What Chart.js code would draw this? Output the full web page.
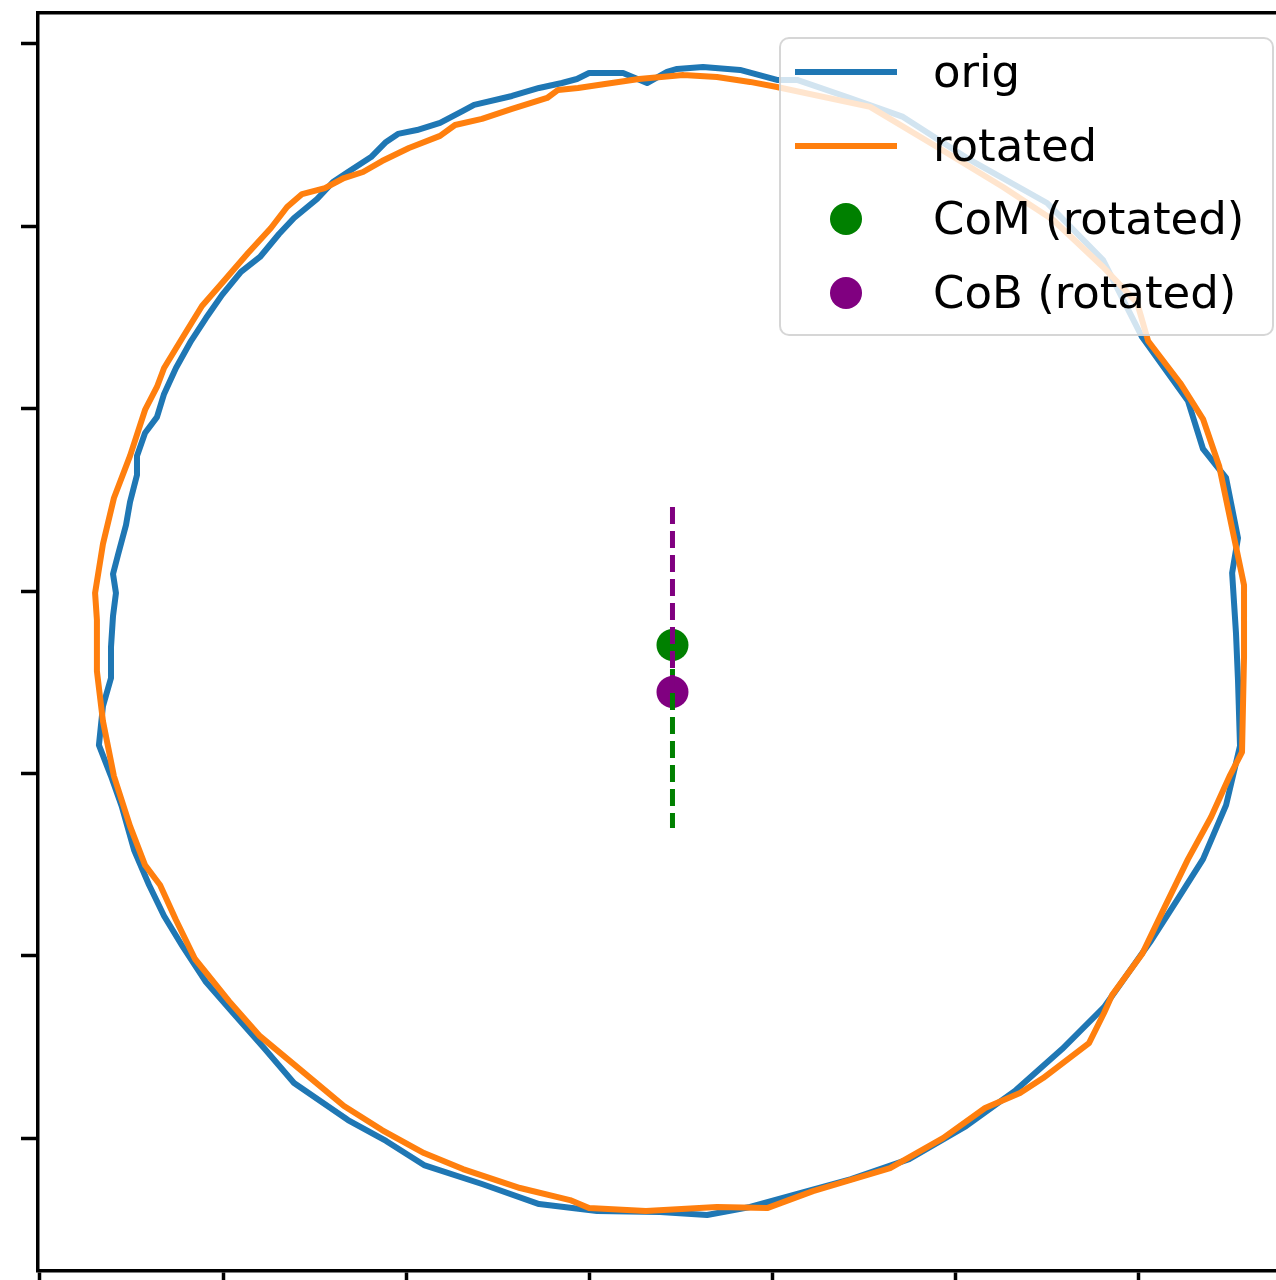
<!DOCTYPE html>
<html>
<head>
<meta charset="utf-8">
<title>CoM / CoB outline</title>
<script src="https://cdn.jsdelivr.net/npm/chart.js@4/dist/chart.umd.min.js"></script>
<style>
  html, body { margin: 0; padding: 0; background: #fff; overflow: hidden; }
  #c { position: absolute; left: 0; top: 0; display: block; }
  #legend {
    position: absolute; left: 779px; top: 37px; width: 495px; height: 299px;
    box-sizing: border-box; border: 2px solid rgba(204,204,204,0.8); border-radius: 10px;
    background: rgba(255,255,255,0.8);
    font-family: "DejaVu Sans", sans-serif; font-size: 45px; color: #000;
  }
  .row { position: absolute; left: 0; right: 0; height: 50px; }
  .row .txt { position: absolute; left: 152px; top: 0; line-height: 50px; white-space: nowrap; }
  .row .hline { position: absolute; left: 14px; width: 102px; }
  .row .hdot { position: absolute; border-radius: 50%; }
</style>
</head>
<body>
<canvas id="c" width="1300" height="1280"></canvas>
<div id="legend"></div>
<script>
// outline of the shape before rotation
const origX = [348.1,342.6,331.7,318.6,300.0,293.4,285.2,272.7,257.9,237.2,231.1,218.6,206.0,195.6,189.1,180.9,168.3,160.1,151.4,138.8,
  130.6,120.2,109.8,99.5,90.7,82.5,74.3,67.8,63.9,57.4,53.0,53.0,49.2,47.0,42.6,39.9,41.5,39.9,38.8,38.8,
  34.4,32.2,38.8,44.8,51.4,59.6,67.8,78.1,90.7,105.5,122.4,138.8,168.3,189.1,209.8,241.5,272.7,304.4,338.8,364.5,
  388.0,415.3,443.2,474.9,506.0,533.3,558.5,581.4,606.6,621.3,635.5,648.1,655.7,654.6,653.5,651.4,654.6,648.1,635.5,627.3,
  602.2,580.9,550.3,508.2,471.6,442.6,413.7,402.7,382.5,362.3,348.1];
const origY = [586.3,584.7,578.6,584.1,584.1,580.8,578.6,575.9,571.5,566.6,563.3,556.7,552.8,550.7,546.3,538.0,529.8,524.3,515.0,504.6,
  495.8,483.2,475.0,462.4,449.7,437.1,422.3,408.1,395.4,386.7,374.1,363.6,348.8,336.2,319.8,309.3,298.9,286.3,269.3,252.3,
  236.9,215.5,198.5,181.5,158.0,138.8,121.8,104.8,85.6,68.6,49.4,30.2,9.9,-1.6,-14.8,-25.2,-36.2,-40.0,-40.6,-42.2,
  -37.8,-30.2,-22.5,-11.5,6.6,26.3,48.8,71.8,107.5,130.5,153.0,182.6,215.0,251.2,277.0,309.9,329.1,362.0,377.9,404.2,
  439.3,481.5,512.8,536.4,560.0,570.4,580.3,580.3,585.8,587.4,586.3];

// outline after rotation
const rotX = [351.4,327.3,308.7,294.0,283.1,277.1,257.9,241.5,226.8,218.6,201.6,186.9,176.5,166.1,155.7,143.2,135.0,126.2,113.7,99.5,
  88.5,78.1,67.8,63.9,57.4,49.2,40.4,34.4,30.1,31.1,31.1,34.4,40.4,49.2,57.4,65.6,74.3,84.7,103.3,120.2,
  143.2,166.1,186.9,209.8,231.1,262.3,289.6,300.0,331.1,369.9,397.3,422.4,464.5,493.4,516.4,535.5,548.1,573.2,581.4,585.8,
  602.2,614.8,627.3,639.9,650.3,656.8,657.9,657.9,652.5,644.3,635.5,623.0,605.5,599.5,580.9,553.6,526.2,490.2,453.6,402.7,
  388.0,369.9,351.4];
const rotY = [583.0,580.8,578.1,575.9,574.8,570.4,564.4,558.9,555.6,549.6,543.0,535.8,529.8,526.5,521.0,517.7,510.6,499.1,485.4,468.9,
  456.3,439.3,422.3,411.9,399.3,374.1,351.0,325.8,298.9,284.1,256.1,228.7,198.5,171.1,149.7,138.8,119.6,98.2,75.1,55.9,
  36.7,17.6,4.4,-8.2,-17.0,-27.4,-34.0,-38.4,-40.0,-37.8,-38.4,-29.1,-16.5,0.0,16.5,24.7,32.9,52.1,68.6,78.4,
  100.9,127.2,153.0,176.1,199.1,211.7,263.8,303.3,329.1,368.6,394.3,414.1,437.1,458.0,477.7,503.5,521.6,543.5,565.5,576.4,
  579.2,581.9,583.0];

// centre of mass and centre of buoyancy of the rotated shape
const comX = [345.6];
const comY = [270.4];
const cobX = [345.6];
const cobY = [244.6];

// vertical guide lines through both centres
const comLineX = [345.6, 345.6];
const comLineY = [270.4, 170.0];
const cobLineX = [345.6, 345.6];
const cobLineY = [244.6, 347.2];

// axis ticks and limits
const xTicks = [0, 100, 200, 300, 400, 500, 600];
const yTicks = [0, 100, 200, 300, 400, 500, 600];
const xMin = -1.09, xMax = 686.3;
const yMin = -72.9, yMax = 617.0;

const pts = (xs, ys) => xs.map((x, i) => ({ x: x, y: ys[i] }));

const BLUE = '#1f77b4', ORANGE = '#ff7f0e', GREEN = '#008000', PURPLE = '#800080';

const lineStyle = (color) => ({
  showLine: true, borderColor: color, backgroundColor: color, borderWidth: 6,
  pointRadius: 0, pointHoverRadius: 0, fill: false, tension: 0,
  borderJoinStyle: 'round', borderCapStyle: 'round'
});

const datasets = [
  Object.assign({ label: 'orig', data: pts(origX, origY), order: 5 }, lineStyle(BLUE)),
  Object.assign({ label: 'rotated', data: pts(rotX, rotY), order: 4 }, lineStyle(ORANGE)),
  { label: 'CoM (rotated)', data: pts(comX, comY), order: 10, showLine: false,
    pointRadius: 16, pointHoverRadius: 16, pointBorderWidth: 0,
    backgroundColor: GREEN, borderColor: GREEN, pointStyle: 'circle' },
  { label: 'CoB (rotated)', data: pts(cobX, cobY), order: 9, showLine: false,
    pointRadius: 16, pointHoverRadius: 16, pointBorderWidth: 0,
    backgroundColor: PURPLE, borderColor: PURPLE, pointStyle: 'circle' },
  { data: pts(comLineX, comLineY), order: 3, showLine: true, borderColor: GREEN,
    borderWidth: 5, borderDash: [17, 7], pointRadius: 0, pointHoverRadius: 0, fill: false },
  { data: pts(cobLineX, cobLineY), order: 2, showLine: true, borderColor: PURPLE,
    borderWidth: 5, borderDash: [17, 7], pointRadius: 0, pointHoverRadius: 0, fill: false }
];

const spine = { display: true, color: '#000', width: 3.5 };
const setTicks = (vals) => (scale) => { scale.ticks = vals.map(v => ({ value: v })); };
const tickGrid = { display: true, drawOnChartArea: false, drawTicks: true, tickLength: 17,
                   tickColor: '#000', tickWidth: 3.5, color: '#000' };
const plainGrid = { display: true, drawOnChartArea: false, drawTicks: false };

const chart = new Chart(document.getElementById('c'), {
  type: 'scatter',
  data: { datasets: datasets },
  options: {
    responsive: false,
    maintainAspectRatio: false,
    devicePixelRatio: 1,
    animation: false,
    events: [],
    layout: { padding: 0, autoPadding: false },
    plugins: { legend: { display: false }, tooltip: { enabled: false }, title: { display: false } },
    scales: {
      x: { type: 'linear', position: 'bottom', min: xMin, max: xMax,
           afterBuildTicks: setTicks(xTicks), afterFit: (s) => { s.height = 9; },
           ticks: { display: false }, grid: tickGrid, border: spine },
      y: { type: 'linear', position: 'left', min: yMin, max: yMax,
           afterBuildTicks: setTicks(yTicks), afterFit: (s) => { s.width = 38; },
           ticks: { display: false }, grid: tickGrid, border: spine },
      x2: { type: 'linear', position: 'top', min: xMin, max: xMax,
            afterFit: (s) => { s.height = 13; },
            ticks: { display: false }, grid: plainGrid, border: spine },
      y2: { type: 'linear', position: 'right', min: yMin, max: yMax,
            afterFit: (s) => { s.width = 4; },
            ticks: { display: false }, grid: plainGrid, border: spine }
    }
  }
});

// legend box built from the labelled datasets
(function buildLegend() {
  const box = document.getElementById('legend');
  const firstCenter = 33, rowStep = 73.7, rowH = 50, handleLeft = 14, handleW = 102;
  let i = 0;
  chart.data.datasets.forEach((ds) => {
    if (!ds.label) return;
    const row = document.createElement('div');
    row.className = 'row';
    row.style.top = (firstCenter + i * rowStep - rowH / 2) + 'px';
    if (ds.showLine) {
      const h = document.createElement('div');
      h.className = 'hline';
      h.style.height = ds.borderWidth + 'px';
      h.style.top = (rowH / 2 - ds.borderWidth / 2) + 'px';
      h.style.background = ds.borderColor;
      row.appendChild(h);
    } else {
      const d = document.createElement('div');
      d.className = 'hdot';
      const r = ds.pointRadius;
      d.style.width = d.style.height = (2 * r) + 'px';
      d.style.left = (handleLeft + handleW / 2 - r) + 'px';
      d.style.top = (rowH / 2 - r) + 'px';
      d.style.background = ds.backgroundColor;
      row.appendChild(d);
    }
    const t = document.createElement('div');
    t.className = 'txt';
    t.textContent = ds.label;
    row.appendChild(t);
    box.appendChild(row);
    i++;
  });
})();
</script>
</body>
</html>
